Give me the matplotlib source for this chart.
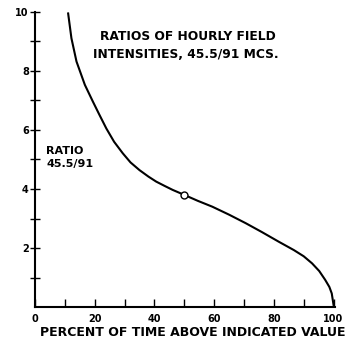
import matplotlib.pyplot as plt
import numpy as np

# curve (percent of time, ratio)
pct = [11.1, 12.2, 13.9, 16.7, 19.4, 21.5, 23.9, 26.5, 29.4, 32.0, 35.0, 38.0,
       40.6, 43.5, 46.1, 50.0, 54.5, 59.4, 65.0, 70.6, 76.0, 81.7, 86.7, 90.0,
       92.8, 95.2, 97.2, 98.6, 99.4, 100.0]
ratio = [9.95, 9.11, 8.32, 7.53, 6.96, 6.53, 6.05, 5.60, 5.21, 4.90, 4.64, 4.42,
         4.25, 4.10, 3.97, 3.80, 3.60, 3.40, 3.13, 2.84, 2.54, 2.21, 1.93, 1.72,
         1.48, 1.22, 0.92, 0.68, 0.46, 0.07]
marker_pct = [50.0]
marker_ratio = [3.80]

x_ticks = [0, 20, 40, 60, 80, 100]
y_ticks = [2, 4, 6, 8, 10]

fig = plt.figure(figsize=(3.49, 3.42), dpi=100)
ax = fig.add_axes([0.1003, 0.1023, 0.8597, 0.8627])

ax.plot(pct, ratio, color='black', lw=1.5, solid_joinstyle='round')
ax.plot(marker_pct, marker_ratio, 'o', mfc='white', mec='black', ms=5, mew=1.0)

ax.set_xlim(0, 100.5)
ax.set_ylim(0, 10)
for s in ['top', 'right']:
    ax.spines[s].set_visible(False)
for s in ['left', 'bottom']:
    ax.spines[s].set_linewidth(1.5)

ax.set_xticks(x_ticks)
ax.set_xticks(np.arange(10, 100, 20), minor=True)
ax.set_yticks(y_ticks)
ax.set_yticks(np.arange(1, 10, 2), minor=True)
ax.tick_params(which='both', width=1, labelsize=7)
ax.tick_params(axis='x', which='both', direction='in', length=6, pad=5)
ax.tick_params(axis='y', which='both', direction='inout', length=7, pad=1)
ax.set_yticklabels([str(v) for v in y_ticks], fontweight='bold')
ax.set_xticklabels([str(v) for v in x_ticks], fontweight='bold')

ax.set_xlabel('PERCENT OF TIME ABOVE INDICATED VALUE', fontsize=9,
              fontweight='bold', labelpad=2)
ax.xaxis.set_label_coords(0.525, -0.065)

ax.text(0.217, 0.94, 'RATIOS OF HOURLY FIELD', transform=ax.transAxes,
        fontsize=8.8, fontweight='bold', va='top')
ax.text(0.193, 0.877, 'INTENSITIES, 45.5/91 MCS.', transform=ax.transAxes,
        fontsize=8.8, fontweight='bold', va='top')
ax.text(0.038, 0.545, 'RATIO\n45.5/91', transform=ax.transAxes, fontsize=8,
        fontweight='bold', va='top', linespacing=1.3)

fig.savefig('out.png', dpi=100)
